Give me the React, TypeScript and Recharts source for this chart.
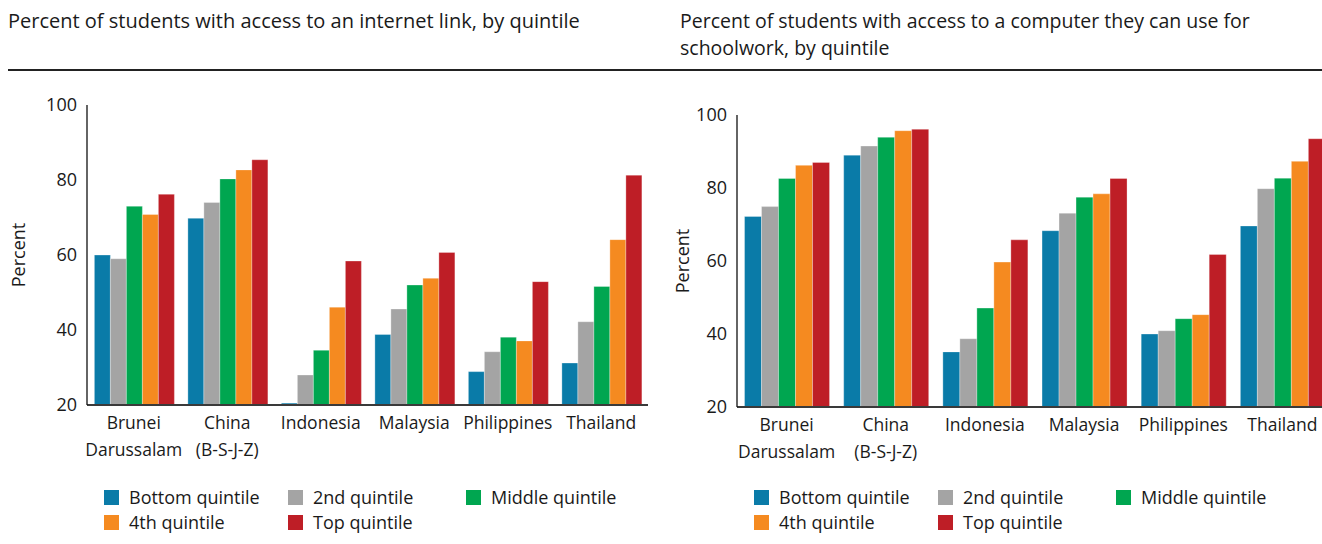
import { Bar, BarChart, XAxis, YAxis } from 'recharts';

const countries = [
  'Brunei\nDarussalam',
  'China\n(B-S-J-Z)',
  'Indonesia',
  'Malaysia',
  'Philippines',
  'Thailand',
];

const quintiles = ['Bottom quintile', '2nd quintile', 'Middle quintile', '4th quintile', 'Top quintile'];
const quintileColors = ['#0A7BA8', '#A4A4A4', '#00A650', '#F58A20', '#BE1E26'];

// internet link, by quintile
const internetBottom = [60, 69.8, 20.5, 38.8, 28.9, 31.2];
const internet2nd = [59, 74, 28, 45.6, 34.2, 42.2];
const internetMiddle = [73, 80.3, 34.6, 52, 38.1, 51.6];
const internet4th = [70.8, 82.7, 46.1, 53.8, 37.1, 64.1];
const internetTop = [76.2, 85.4, 58.4, 60.7, 52.9, 81.3];

// computer for schoolwork, by quintile
const computerBottom = [72.2, 89, 35.1, 68.3, 40, 69.6];
const computer2nd = [74.9, 91.5, 38.7, 73.1, 40.9, 79.8];
const computerMiddle = [82.6, 93.9, 47.1, 77.5, 44.2, 82.7];
const computer4th = [86.2, 95.7, 59.7, 78.4, 45.3, 87.3];
const computerTop = [87, 96.1, 65.8, 82.6, 61.8, 93.5];

const yTicks = [20, 40, 60, 80, 100];

const FONT = "'Open Sans', sans-serif";
const INK = '#1a1a1a';

function buildRows(series: number[][]) {
  return countries.map((country, i) => {
    const row: Record<string, string | number> = { country };
    series.forEach((values, s) => {
      row[`q${s}`] = values[i];
    });
    return row;
  });
}

const internetRows = buildRows([internetBottom, internet2nd, internetMiddle, internet4th, internetTop]);
const computerRows = buildRows([computerBottom, computer2nd, computerMiddle, computer4th, computerTop]);

function CountryTick(props: any) {
  const { x, y, payload } = props;
  const lines = String(payload.value).split('\n');
  return (
    <text x={x} y={y} textAnchor="middle" fill={INK} fontSize={17.5} fontFamily={FONT}>
      {lines.map((line, i) => (
        <tspan key={line} x={x} dy={i === 0 ? 24 : 27}>
          {line}
        </tspan>
      ))}
    </text>
  );
}

function QuintileChart({
  rows,
  width,
  height,
  top,
  axisWidth,
  gap,
  labelOffset,
}: {
  rows: Record<string, string | number>[];
  width: number;
  height: number;
  top: number;
  axisWidth: number;
  gap: string;
  labelOffset: number;
}) {
  return (
    <BarChart
      width={width}
      height={height}
      data={rows}
      margin={{ top, right: 0, bottom: 0, left: 0 }}
      barCategoryGap={gap}
      barGap={0}
    >
      <XAxis
        dataKey="country"
        height={55}
        interval={0}
        tickLine={false}
        tickSize={0}
        tickMargin={0}
        tick={<CountryTick />}
        axisLine={{ stroke: '#3a3a3a', strokeWidth: 2 }}
      />
      <YAxis
        width={axisWidth}
        domain={[20, 100]}
        ticks={yTicks}
        allowDataOverflow
        tickLine={false}
        tickSize={0}
        tickMargin={10}
        axisLine={{ stroke: '#111', strokeWidth: 1.3 }}
        tick={{ fill: INK, fontSize: 18, fontFamily: FONT }}
        label={{
          value: 'Percent',
          angle: -90,
          position: 'insideLeft',
          offset: labelOffset,
          style: { fill: INK, fontSize: 18, fontFamily: FONT, textAnchor: 'middle' },
        }}
      />
      {quintiles.map((name, s) => (
        <Bar
          key={name}
          dataKey={`q${s}`}
          name={name}
          fill={quintileColors[s]}
          stroke="#ffffff"
          strokeWidth={0.5}
          strokeOpacity={0.6}
          isAnimationActive={false}
        />
      ))}
    </BarChart>
  );
}

function QuintileLegend({ left, columns }: { left: number; columns: number[] }) {
  return (
    <>
      {quintiles.map((name, s) => (
        <div
          key={name}
          style={{
            position: 'absolute',
            left: left + columns[s % 3],
            top: 485 + Math.floor(s / 3) * 25,
            display: 'flex',
            alignItems: 'center',
            fontFamily: FONT,
            fontSize: 18,
            color: INK,
            whiteSpace: 'nowrap',
          }}
        >
          <span style={{ width: 15, height: 15, background: quintileColors[s], marginRight: 10 }} />
          {name}
        </div>
      ))}
    </>
  );
}

export default function App() {
  const titleStyle = {
    position: 'absolute' as const,
    fontFamily: FONT,
    color: INK,
    whiteSpace: 'nowrap' as const,
  };
  return (
    <div
      style={{
        position: 'absolute',
        left: 0,
        top: 0,
        width: 1322,
        height: 544,
        overflow: 'hidden',
        background: '#fff',
      }}
    >
      <div style={{ ...titleStyle, left: 8, top: 9, fontSize: 20, lineHeight: '24px' }}>
        Percent of students with access to an internet link, by quintile
      </div>
      <div style={{ ...titleStyle, left: 680, top: 7, fontSize: 19.5, lineHeight: '27px' }}>
        Percent of students with access to a computer they can use for
        <br />
        schoolwork, by quintile
      </div>
      <div style={{ position: 'absolute', left: 8, top: 69, width: 1314, height: 2, background: '#222' }} />

      <div style={{ position: 'absolute', left: 0, top: 0 }}>
        <QuintileChart
          rows={internetRows}
          width={648}
          height={460}
          top={105}
          axisWidth={87}
          gap="7.9%"
          labelOffset={19}
        />
      </div>
      <div style={{ position: 'absolute', left: 660, top: 0 }}>
        <QuintileChart
          rows={computerRows}
          width={672}
          height={462}
          top={115}
          axisWidth={77}
          gap="7.6%"
          labelOffset={23}
        />
      </div>

      <QuintileLegend left={104} columns={[0, 184, 362]} />
      <QuintileLegend left={754} columns={[0, 184, 362]} />
    </div>
  );
}
